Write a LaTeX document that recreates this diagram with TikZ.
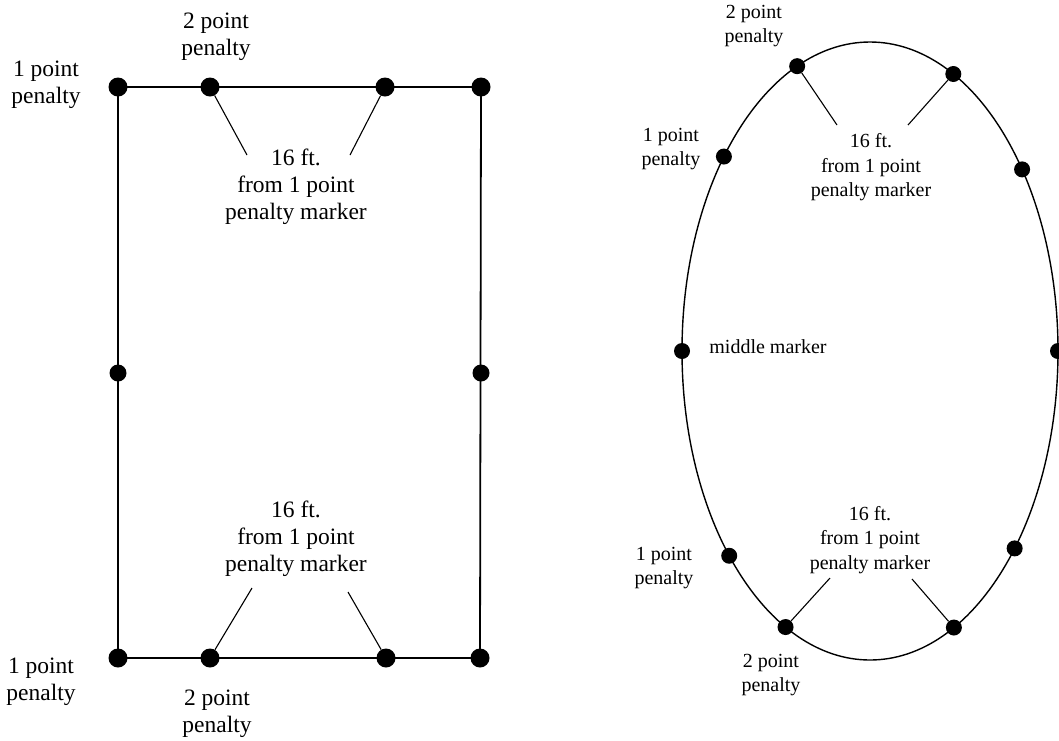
\documentclass[tikz,border=0pt]{standalone}
\usepackage{fontspec}
\setmainfont{Liberation Serif}
\usetikzlibrary{positioning}
\tikzset
{
    bigdot/.style   = {circle, fill=black, inner sep=0pt, minimum size=19pt},
    smalldot/.style = {circle, fill=black, inner sep=0pt, minimum size=16pt},
    bigtext/.style  = {align=center, inner sep=0pt, font=\fontsize{23.5}{27}\selectfont},
    smalltext/.style= {align=center, inner sep=0pt, font=\fontsize{20}{24.5}\selectfont},
    field/.style    = {line width=1.8pt},
    leader/.style   = {line width=1.1pt}
}

\begin{document}
\begin{tikzpicture}[x=1pt, y=1pt]
	\useasboundingbox[fill=white] (0,0) rectangle (1059,-740);

	% rectangular field
	\node (rtl) [bigdot] at (118,-87) {};
	\node (rt2l) [bigdot] at (210,-87) {};
	\node (rt2r) [bigdot] at (385,-87) {};
	\node (rtr) [bigdot] at (481,-87) {};
	\node (rml) [bigdot, minimum size=17pt] at (118,-373) {};
	\node (rmr) [bigdot, minimum size=17pt] at (481,-373) {};
	\node (rbl) [bigdot] at (118,-658) {};
	\node (rb2l) [bigdot] at (210,-658) {};
	\node (rb2r) [bigdot] at (386,-658) {};
	\node (rbr) [bigdot] at (480,-658) {};

	\draw [field] (rtl.center) -- (rtr.center) -- (rbr.center) -- (rbl.center) -- cycle;

	\node (r1tl) [bigtext] at (46,-85) {1 point\\penalty};
	\node (r2tl) [bigtext] at (216,-37) {2 point\\penalty};
	\node (r1bl) [bigtext] at (41,-682) {1 point\\penalty};
	\node (r2bl) [bigtext] at (217,-714) {2 point\\penalty};
	\node (rtop) [bigtext] at (296,-187) {16 ft.\\from 1 point\\penalty marker};
	\node (rbot) [bigtext] at (296,-539) {16 ft.\\from 1 point\\penalty marker};

	\coordinate (rtla) at (247,-155);
	\coordinate (rtra) at (350,-155);
	\coordinate (rbla) at (252,-588);
	\coordinate (rbra) at (348,-592);
	\draw [leader] (rt2l) -- (rtla);
	\draw [leader] (rt2r) -- (rtra);
	\draw [leader] (rb2l) -- (rbla);
	\draw [leader] (rb2r) -- (rbra);

	% oval field
	\coordinate (ec) at (870,-351);
	\draw [line width=1.4pt] (ec) ellipse (188 and 309);

	\path (ec) ++(112.8:188 and 309) node (e2tl) [smalldot] {};
	\path (ec) ++(63.7:188 and 309) node (e2tr) [smalldot] {};
	\path (ec) ++(141:188 and 309) node (e1tl) [smalldot] {};
	\path (ec) ++(36:188 and 309) node (e1tr) [smalldot] {};
	\path (ec) ++(180:188 and 309) node (eml) [smalldot] {};
	\path (ec) ++(0:188 and 309) node (emr) [smalldot] {};
	\path (ec) ++(221.5:188 and 309) node (e1bl) [smalldot] {};
	\path (ec) ++(243.3:188 and 309) node (e2bl) [smalldot] {};
	\path (ec) ++(296.5:188 and 309) node (e2br) [smalldot] {};
	\path (ec) ++(320.3:188 and 309) node (e1br) [smalldot] {};

	\node (l2tl) [smalltext] at (754,-26) {2 point\\penalty};
	\node (l1tl) [smalltext] at (671,-149) {1 point\\penalty};
	\node (l1bl) [smalltext] at (664,-568) {1 point\\penalty};
	\node (l2bl) [smalltext] at (771,-675) {2 point\\penalty};
	\node (lmid) [smalltext, right=19pt of eml, yshift=4pt] {middle marker};
	\node (ltop) [smalltext, text depth=0pt] at (871,-165) {16 ft.\\from 1 point\\penalty marker};
	\node (lbot) [smalltext] at (870,-540) {16 ft.\\from 1 point\\penalty marker};

	\coordinate (etla) at (837,-125);
	\coordinate (etra) at (908,-125);
	\coordinate (ebla) at (830,-578);
	\coordinate (ebra) at (912,-579);
	\draw [leader] (e2tl) -- (etla);
	\draw [leader] (e2tr) -- (etra);
	\draw [leader] (e2bl) -- (ebla);
	\draw [leader] (e2br) -- (ebra);
\end{tikzpicture}
\end{document}
